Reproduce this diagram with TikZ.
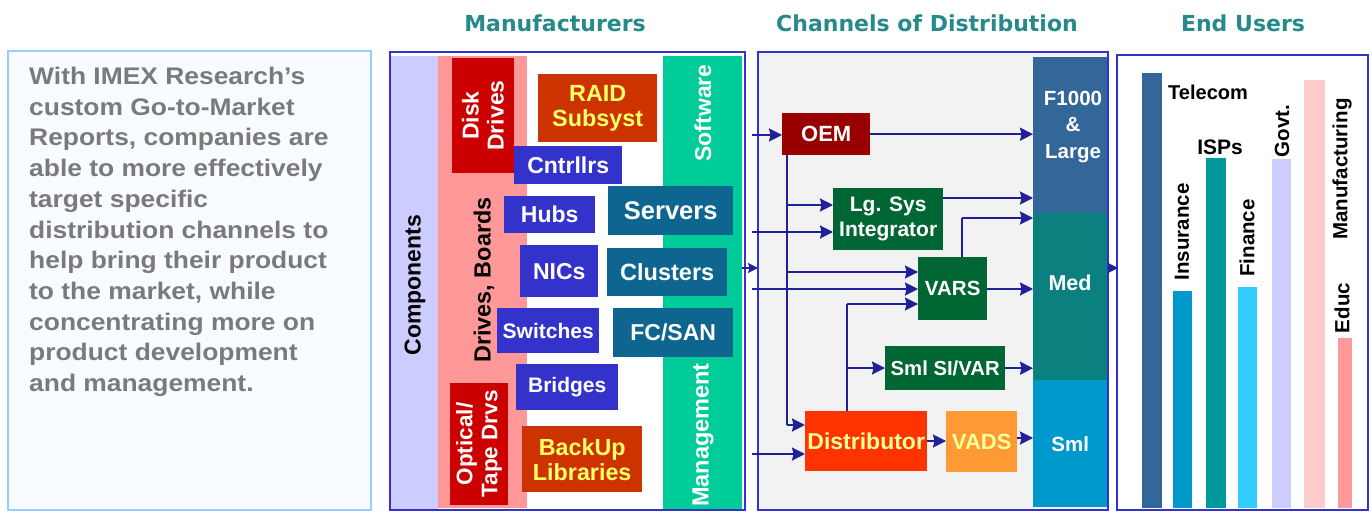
\documentclass[tikz,border=0pt]{standalone}
\usepackage{fontspec}
\setmainfont{Liberation Sans}
\newfontfamily\hdfont{DejaVu Sans}
\newfontfamily\widefont{Liberation Sans}[FakeStretch=1.1]
\usetikzlibrary{arrows.meta}
\definecolor{pborder}{HTML}{3333CC}
\definecolor{arrowc}{HTML}{20209A}
\definecolor{hdteal}{HTML}{268A8A}
\definecolor{txtgray}{HTML}{7A7A7A}
\definecolor{blurbfill}{HTML}{F8FBFF}
\definecolor{blurbline}{HTML}{99CCFF}
\definecolor{lav}{HTML}{CCCCFF}
\definecolor{pinkc}{HTML}{FF9999}
\definecolor{greenc}{HTML}{00CC99}
\definecolor{darkred}{HTML}{CC0000}
\definecolor{rustc}{HTML}{CC3300}
\definecolor{bluec}{HTML}{3333CC}
\definecolor{tealb}{HTML}{0E6690}
\definecolor{yell}{HTML}{FFFF66}
\definecolor{lyell}{HTML}{FFFF99}
\definecolor{chbg}{HTML}{F2F2F2}
\definecolor{steel}{HTML}{336699}
\definecolor{medc}{HTML}{0A807F}
\definecolor{smlc}{HTML}{0099CC}
\definecolor{oemc}{HTML}{990000}
\definecolor{dgreen}{HTML}{006633}
\definecolor{distc}{HTML}{FF3300}
\definecolor{vadsc}{HTML}{FF9933}
\definecolor{ispc}{HTML}{009999}
\definecolor{finc}{HTML}{33CCFF}
\definecolor{manc}{HTML}{FFCCCC}
\newcommand\fsz[1]{\bfseries\fontsize{#1}{25}\selectfont}
\newcommand\mybox[9]{\node[box, fill=#6, text=#7, font=\fsz{#8}, minimum width={(#4-#2)*1pt}, minimum height={(#5-#3)*1pt}] (#1) at (#2,#3) {#9};}
\newcommand\mybar[6]{\node[barc, fill=#6, minimum width={(#4-#2)*1pt}, minimum height={(#5-#3)*1pt}] (#1) at (#2,#3) {};}
\begin{document}
\begin{tikzpicture}[x=1pt,y=-1pt,
  box/.style={anchor=north west, inner sep=0pt, draw=none, align=center},
  barc/.style={anchor=north west, inner sep=0pt, draw=none},
  rbox/.style={inner sep=0pt, draw=none, align=center, rotate=90, font=\fsz{23}},
  rlab/.style={inner sep=0pt, rotate=90, font=\fsz{23}},
  ulab/.style={inner sep=0pt, rotate=90, font=\fsz{20.5}},
  panel/.style={draw=pborder, line width=2pt},
  hdr/.style={font=\hdfont\bfseries\fontsize{22}{26}\selectfont, text=hdteal},
  arr/.style={draw=arrowc, line width=2pt, -{Stealth[length=13pt,width=13pt,inset=1.5pt]}},
  sarr/.style={draw=arrowc, line width=2pt, -{Stealth[length=10pt,width=10pt,inset=1.5pt]}},
  ln/.style={draw=arrowc, line width=2pt}]
\useasboundingbox (0,0) rectangle (1372,513);
\fill[white] (0,0) rectangle (1372,513);

% left blurb
\draw[fill=blurbfill, draw=blurbline, line width=2pt] (8,51) rectangle (371,510);
\node[anchor=north west, align=left, inner sep=0pt, text=txtgray, font=\widefont\bfseries\fontsize{24}{30.7}\selectfont] (blurb) at (29,67) {With IMEX Research’s\\custom Go-to-Market\\Reports, companies are\\able to more effectively\\target specific\\distribution channels to\\help bring their product\\to the market, while\\concentrating more on\\product development\\and management.};

% headers
\node[hdr] (hman) at (555,23) {Manufacturers};
\node[hdr] (hch) at (927,23) {Channels of Distribution};
\node[hdr] (heu) at (1243,23) {End Users};

% Manufacturers panel
\draw[panel, fill=white] (390,52) rectangle (745,510);
\fill[lav] (391,56) rectangle (438,509);
\fill[pinkc] (438,56) rectangle (527,508);
\fill[greenc] (663,56) rectangle (742,509);
\node[rlab] (comp) at (415,285) {Components};
\node[rlab, font=\fsz{23.4}] (drb) at (484,280) {Drives, Boards};
\node[rlab, text=white] (soft) at (703,113) {Software};
\node[rlab, text=white, font=\fsz{23.5}] (mgmt) at (703,435) {Management};

\node[rbox, fill=darkred, text=white, minimum width=115pt, minimum height=62pt] (disk) at (483,115.5) {Disk\\Drives};
\mybox{raid}{538}{74}{657}{142}{rustc}{yell}{23.4}{RAID\\Subsyst}
\mybox{cntr}{514}{146}{622}{184}{bluec}{white}{23}{Cntrllrs}
\mybox{hubs}{504}{196}{595}{233}{bluec}{white}{23}{Hubs}
\mybox{serv}{608}{186}{733}{235}{tealb}{white}{25.5}{Servers}
\mybox{nics}{520}{245}{598}{297}{bluec}{white}{23}{NICs}
\mybox{clus}{607}{248}{727}{296}{tealb}{white}{23.5}{Clusters}
\mybox{swit}{497}{308}{599}{353}{bluec}{white}{21}{Switches}
\mybox{fcsan}{613}{308}{733}{357}{tealb}{white}{23}{FC/SAN}
\mybox{brid}{516}{364}{618}{410}{bluec}{white}{21}{Bridges}
\node[rbox, fill=darkred, text=white, minimum width=122pt, minimum height=58pt, font=\fsz{22.5}] (opt) at (479,444) {Optical/\\Tape Drvs};
\mybox{back}{522}{426}{642}{492}{rustc}{yell}{23.3}{BackUp\\Libraries}

% Channels panel
\draw[panel, fill=chbg] (758,52) rectangle (1108,510);
\mybox{f1000}{1033}{57}{1107}{213}{steel}{white}{21}{}
\mybox{med}{1033}{213}{1107}{380}{medc}{white}{21}{}
\mybox{sml}{1033}{380}{1107}{507}{smlc}{white}{20.5}{Sml}
\node[align=center, inner sep=0pt, text=white, font=\bfseries\fontsize{20.5}{26.5}\selectfont] (lf1000) at (1073,127) {F1000\\\&\\Large};
\node[inner sep=0pt, text=white, font=\fsz{21.5}] (lmed) at (1070,283) {Med};
\mybox{oem}{782}{113}{870}{155}{oemc}{white}{22}{OEM}
\mybox{lgsys}{833}{188}{943}{250}{dgreen}{white}{21}{Lg. Sys\\Integrator}
\mybox{vars}{918}{257}{987}{320}{dgreen}{white}{20.5}{VARS}
\mybox{smlsi}{885}{346}{1005}{390}{dgreen}{white}{20.3}{Sml SI/VAR}
\mybox{dist}{805}{411}{927}{471}{distc}{lyell}{23}{Distributor}
\mybox{vads}{946}{411}{1017}{472}{vadsc}{lyell}{22}{VADS}

% End users panel
\draw[panel, fill=white] (1117,55) rectangle (1368,510);
\mybar{tel}{1142}{73}{1162}{508}{steel}
\mybar{ins}{1173}{291}{1192}{508}{smlc}
\mybar{isp}{1206}{158}{1226}{508}{ispc}
\mybar{fin}{1238}{287}{1257}{508}{finc}
\mybar{gov}{1272}{159}{1291}{508}{lav}
\mybar{manu}{1304}{80}{1325}{508}{manc}
\mybar{edu}{1338}{338}{1352}{508}{pinkc}
\node[anchor=west, inner sep=0pt, font=\fsz{20}] (ltel) at (1168,92) {Telecom};
\node[inner sep=0pt, font=\fsz{21}] (lisp) at (1220,147) {ISPs};
\node[ulab] (lins) at (1182,232) {Insurance};
\node[ulab] (lfin) at (1247,238) {Finance};
\node[ulab] (lgov) at (1282,131) {Govt.};
\node[ulab] (lman) at (1342,169) {Manufacturing};
\node[ulab] (ledu) at (1342,308) {Educ};

% panel-to-panel arrows
\coordinate (m2c) at (742,268);
\coordinate (c2e) at (1108,268);
\draw[sarr] (m2c) -- (758,268);
\draw[sarr] (c2e) -- (1118,268);

% input arrows
\coordinate (in1) at (752,135);
\coordinate (in2) at (752,232);
\coordinate (in3) at (752,289);
\coordinate (in4) at (752,454);
\draw[arr] (in1) -- (in1 -| oem.west);
\draw[arr] (in2) -- (in2 -| lgsys.west);
\draw[arr] (in3) -- (in3 -| vars.west);
\draw[arr] (in4) -- (in4 -| dist.west);

% OEM trunk
\coordinate (ot) at ([xshift=5pt]oem.south west);
\coordinate (ob) at (787,425);
\coordinate (o1) at (787,205);
\coordinate (o2) at (787,272);
\draw[ln] (ot) -- (ob);
\draw[arr] (ob) -- (ob -| dist.west);
\draw[arr] (o1) -- (o1 -| lgsys.west);
\draw[arr] (o2) -- (o2 -| vars.west);

% to end segments
\draw[arr] (oem.east) -- (oem.east -| f1000.west);
\coordinate (lg1) at (943,198);
\draw[arr] (lg1) -- (lg1 -| f1000.west);
\coordinate (vt) at (962,257);
\coordinate (vt2) at (962,218);
\draw[ln] (vt) -- (vt2);
\draw[arr] (vt2) -- (vt2 -| med.west);
\coordinate (vr) at (987,289);
\draw[arr] (vr) -- (vr -| med.west);

% distributor trunk
\coordinate (dt) at (847,411);
\coordinate (dt2) at (847,304);
\coordinate (dt3) at (847,368);
\draw[ln] (dt) -- (dt2);
\draw[arr] (dt2) -- (dt2 -| vars.west);
\draw[arr] (dt3) -- (dt3 -| smlsi.west);
\draw[arr] (smlsi.east) -- (smlsi.east -| med.west);
\coordinate (dv) at (927,441);
\draw[arr] (dv) -- (dv -| vads.west);
\coordinate (vs) at (1017,438);
\draw[arr] (vs) -- (vs -| sml.west);
\end{tikzpicture}
\end{document}
